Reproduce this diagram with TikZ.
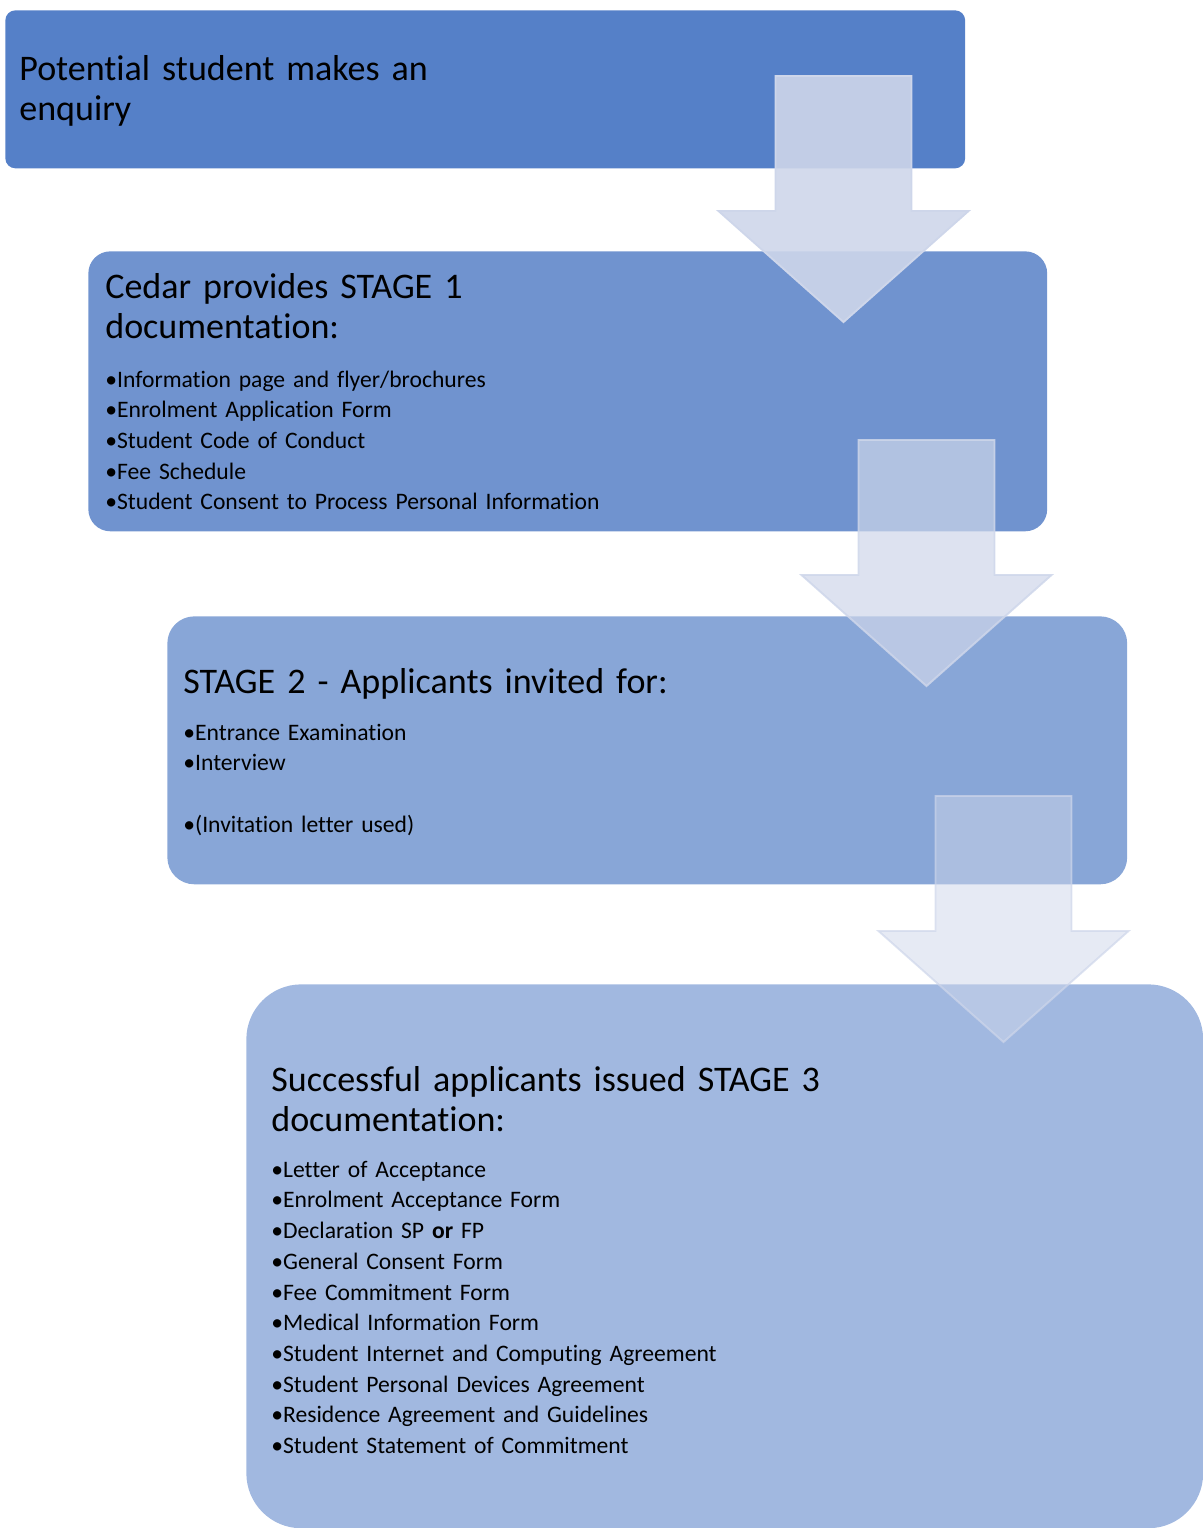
\documentclass[tikz,border=0pt]{standalone}
\usepackage{fontspec}
\setmainfont{Carlito}[Ligatures=NoCommon]
\usetikzlibrary{positioning,calc}

\definecolor{stageA}{RGB}{85,128,200}
\definecolor{stageB}{RGB}{112,147,207}
\definecolor{stageC}{RGB}{136,166,215}
\definecolor{stageD}{RGB}{161,184,224}
\definecolor{arrowfill}{RGB}{206,214,234}

\tikzset{
  pics/downarrow/.style={code={
    \filldraw[fill=arrowfill, draw=arrowfill, line width=1.1pt, line join=miter]
      (-68,0) -- (68,0) -- (68,135) -- (125,135) -- (0,246) -- (-125,135) -- (-68,135) -- cycle;
  }}
}

\begin{document}
\begin{tikzpicture}[
    x=0.02cm, y=-0.02cm,
    stagebox/.style={rectangle, anchor=north west, inner sep=0pt},
    stagetitle/.style={anchor=base west, inner sep=0pt, text width=16cm, align=left, font=\fontsize{20.5}{23.2}\selectfont},
    stageitems/.style={anchor=base west, inner sep=0pt, text width=16cm, align=left, font=\fontsize{13.45}{17.5}\selectfont}
]
\useasboundingbox (0,0) rectangle (1203,1528);

% stage boxes
\node[stagebox, fill=stageA, rounded corners=0.2cm, minimum width=19.2cm, minimum height=3.16cm] (b1) at (5,10) {};
\node[stagebox, fill=stageB, rounded corners=0.44cm, minimum width=19.18cm, minimum height=5.6cm] (b2) at (88,251) {};
\node[stagebox, fill=stageC, rounded corners=0.54cm, minimum width=19.2cm, minimum height=5.36cm] (b3) at (167,616) {};
\node[stagebox, fill=stageD, rounded corners=1.1cm, minimum width=19.14cm, minimum height=10.88cm] (b4) at (246,984) {};

% texts
\node[stagetitle] (t1) at ($(b1.north west)+(14,70)$) {Potential student makes an\\enquiry};

\node[stagetitle] (t2) at ($(b2.north west)+(17,47)$) {Cedar provides STAGE 1\\documentation:};
\node[stageitems] (l2) at ($(b2.north west)+(17,136)$) {•Information page and flyer/brochures\\•Enrolment Application Form\\•Student Code of Conduct\\•Fee Schedule\\•Student Consent to Process Personal Information};

\node[stagetitle] (t3) at ($(b3.north west)+(16,77)$) {STAGE 2 - Applicants invited for:};
\node[stageitems] (l3) at ($(b3.north west)+(16,124)$) {•Entrance Examination\\•Interview\\[17.5pt]•(Invitation letter used)};

\node[stagetitle] (t4) at ($(b4.north west)+(25,107)$) {Successful applicants issued STAGE 3\\documentation:};
\node[stageitems] (l4) at ($(b4.north west)+(25,193)$) {•Letter of Acceptance\\•Enrolment Acceptance Form\\•Declaration SP \textbf{or} FP\\•General Consent Form\\•Fee Commitment Form\\•Medical Information Form\\•Student Internet and Computing Agreement\\•Student Personal Devices Agreement\\•Residence Agreement and Guidelines\\•Student Statement of Commitment};

% block arrows between the stages
\pic[fill opacity=0.9, draw opacity=1] (a1) at ($(b1.north east)+(-122,66)$) {downarrow};
\pic[fill opacity=0.7, draw opacity=0.85] (a2) at ($(b2.north east)+(-121,189)$) {downarrow};
\pic[fill opacity=0.5, draw opacity=0.7] (a3) at ($(b3.north east)+(-124,180)$) {downarrow};

\end{tikzpicture}
\end{document}
